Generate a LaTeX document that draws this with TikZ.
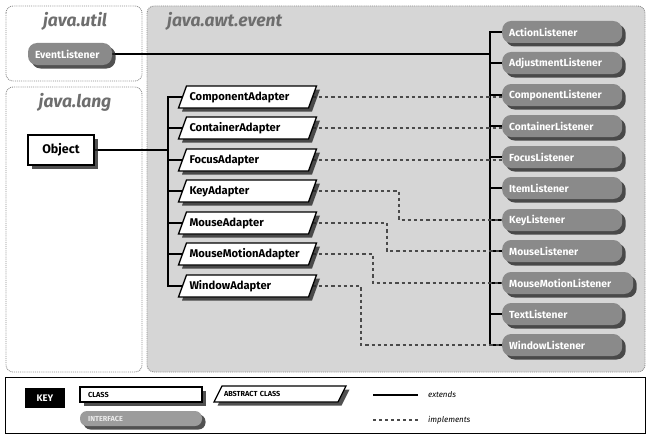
\documentclass[tikz,border=0pt]{standalone}
\usepackage{fontspec}
\setmainfont{Fira Sans}
\usetikzlibrary{shadows}

\definecolor{awtfill}{HTML}{D6D6D6}
\definecolor{ifacefill}{HTML}{8A8A8A}
\definecolor{pkgtext}{HTML}{6E6E6E}
\definecolor{pkgline}{HTML}{8E8E8E}
\definecolor{dashline}{HTML}{4A4A4A}

\pgfdeclarelayer{pkglayer}
\pgfdeclarelayer{linelayer}
\pgfsetlayers{pkglayer,linelayer,main}

\tikzset{
  pkg/.style={draw=pkgline, densely dotted, line width=0.9pt, rounded corners=7pt},
  pkglabel/.style={text=pkgtext, font=\bfseries\itshape\fontsize{17.5}{17.5}\selectfont, inner sep=0pt},
  hardshadow/.style={drop shadow={shadow xshift=3.5pt, shadow yshift=-3.5pt, fill=black!85, opacity=0.8}},
  iface/.style={rounded corners=9pt, fill=ifacefill, text=white, hardshadow,
    font=\bfseries\fontsize{10.3}{11}\selectfont, minimum height=22pt,
    text width=#1, align=left, inner xsep=7pt, inner ysep=0pt, anchor=west},
  iface/.default=106pt,
  slantline/.style={draw=black, line width=1.3pt, fill=white, line join=miter},
  slantshadow/.style={fill=black!85, opacity=0.8},
  adaptertext/.style={font=\bfseries\fontsize{11.2}{12}\selectfont, text width=116pt,
    align=left, inner xsep=7pt, inner ysep=0pt, minimum height=22pt},
  classbox/.style={draw=black, line width=1.3pt, fill=white, hardshadow,
    font=\bfseries\fontsize{12.5}{13}\selectfont, minimum width=66pt, minimum height=30pt},
  extends/.style={draw=black, line width=1.4pt},
  implements/.style={draw=dashline, line width=1.2pt, dash pattern=on 3.2pt off 3pt},
  keytext/.style={font=\bfseries\fontsize{7.3}{7.5}\selectfont, inner sep=0pt, anchor=west},
  keylabel/.style={font=\itshape\fontsize{8}{8}\selectfont, inner sep=0pt, anchor=west}
}

% slanted (abstract class) box: [text style]{name}{x}{y}{half width}{half height}{half slant}{text}
\newcommand{\slantbox}[8][adaptertext]{%
  \begin{scope}[shift={(#3,#4)}]
    \fill[slantshadow, xshift=3.5pt, yshift=-3.5pt]
      (-#5+#7,-#6) -- (#5+#7,-#6) -- (#5-#7,#6) -- (-#5-#7,#6) -- cycle;
    \draw[slantline]
      (-#5+#7,-#6) -- (#5+#7,-#6) -- (#5-#7,#6) -- (-#5-#7,#6) -- cycle;
  \end{scope}
  \node[#1] (#2) at (#3,#4) {#8};%
}

\begin{document}
\begin{tikzpicture}[x=1pt,y=-1pt]
\useasboundingbox (0,0) rectangle (650,436);

% page ground and package frames
\begin{pgfonlayer}{pkglayer}
  \fill[white] (0,0) rectangle (650,436);
  \draw[pkg] (6,6) rectangle (142,81);
  \draw[pkg] (6,87) rectangle (142,372);
  \draw[pkg, fill=awtfill] (147,6) rectangle (645,372);
\end{pgfonlayer}
\node[pkglabel] (utillbl) at (75,21) {java.util};
\node[pkglabel] (langlbl) at (75,102) {java.lang};
\node[pkglabel, anchor=west] (awtlbl) at (167,21) {java.awt.event};

% base types
\node[iface=70pt, anchor=center, minimum width=84pt] (el) at (70,54) {EventListener};
\node[classbox] (obj) at (61,150) {Object};

% listener interfaces
\node[iface] (al)  at (502,32)  {ActionListener};
\node[iface] (adl) at (502,63)  {AdjustmentListener};
\node[iface] (cpl) at (502,95)  {ComponentListener};
\node[iface] (ctl) at (502,126) {ContainerListener};
\node[iface] (fl)  at (502,157) {FocusListener};
\node[iface] (il)  at (502,188) {ItemListener};
\node[iface] (kl)  at (502,220) {KeyListener};
\node[iface] (ml)  at (502,251) {MouseListener};
\node[iface=117pt] (mml) at (502,283) {MouseMotionListener};
\node[iface] (tl)  at (502,314) {TextListener};
\node[iface] (wl)  at (502,345) {WindowListener};

% abstract adapter classes
\slantbox{ca}{247.5}{97}{65}{11}{4}{ComponentAdapter}
\slantbox{cta}{247.5}{128}{65}{11}{4}{ContainerAdapter}
\slantbox{fa}{247.5}{160}{65}{11}{4}{FocusAdapter}
\slantbox{ka}{247.5}{191}{65}{11}{4}{KeyAdapter}
\slantbox{ma}{247.5}{223}{65}{11}{4}{MouseAdapter}
\slantbox{mma}{247.5}{254}{65}{11}{4}{MouseMotionAdapter}
\slantbox{wa}{247.5}{286}{65}{11}{4}{WindowAdapter}

% trunk and bend positions
\coordinate (ltrunk) at (490,0);
\coordinate (atrunk) at (168,0);
\coordinate (kbend) at (399,0);
\coordinate (mbend) at (387,0);
\coordinate (mmbend) at (373,0);
\coordinate (wbend) at (361,0);

\begin{pgfonlayer}{linelayer}
  % extends: listeners from EventListener
  \foreach \n in {al,adl,cpl,ctl,fl,il,kl,ml,mml,tl,wl}
    \draw[extends] (el.east) -| (ltrunk |- \n.west) -- (\n.west);
  % extends: adapters from Object
  \foreach \n in {ca,cta,fa,ka,ma,mma,wa}
    \draw[extends] (obj.east) -| (atrunk |- \n.west) -- (\n.west);
  % implements
  \draw[implements] (ca.east) -- (ca.east -| cpl.west);
  \draw[implements] (cta.east) -- (cta.east -| ctl.west);
  \draw[implements] (fa.east) -- (fa.east -| fl.west);
  \draw[implements] (ka.east) -| (kbend |- kl.west) -- (kl.west);
  \draw[implements] (ma.east) -| (mbend |- ml.west) -- (ml.west);
  \draw[implements] (mma.east) -| (mmbend |- mml.west) -- (mml.west);
  \draw[implements] (wa.east) -| (wbend |- wl.west) -- (wl.west);
\end{pgfonlayer}

% key
\draw[black, line width=0.9pt] (5,377) rectangle (645,433);
\node[fill=black, text=white, font=\bfseries\fontsize{9.5}{9.5}\selectfont,
      minimum width=40pt, minimum height=20pt, inner sep=0pt] (keyhdr) at (45,398) {KEY};
\node[draw=black, line width=1.1pt, fill=white, hardshadow, minimum width=122pt,
      minimum height=15pt, inner sep=0pt] (keyclass) at (141,394.5) {};
\node[keytext] (keyclasst) at (88,394.5) {CLASS};
\node[rounded corners=7pt, fill=ifacefill!85!white, hardshadow, minimum width=122pt,
      minimum height=15pt, inner sep=0pt] (keyiface) at (141,418.5) {};
\node[keytext, text=white!85!gray] (keyifacet) at (88,418.5) {INTERFACE};
\slantbox[{font=\bfseries\fontsize{7.3}{7.5}\selectfont, text width=112pt, align=left,
  inner xsep=6pt, inner ysep=0pt}]{keyabs}{280}{394}{62}{8}{4}{ABSTRACT CLASS}
\coordinate (extA) at (373,395);
\coordinate (extB) at (418,395);
\coordinate (impA) at (373,420);
\coordinate (impB) at (418,420);
\draw[extends, line width=1.2pt] (extA) -- (extB);
\draw[implements, line width=1.2pt, dash pattern=on 3pt off 3pt] (impA) -- (impB);
\node[keylabel] (extlbl) at (428,395) {extends};
\node[keylabel] (implbl) at (428,420) {implements};
\end{tikzpicture}
\end{document}
